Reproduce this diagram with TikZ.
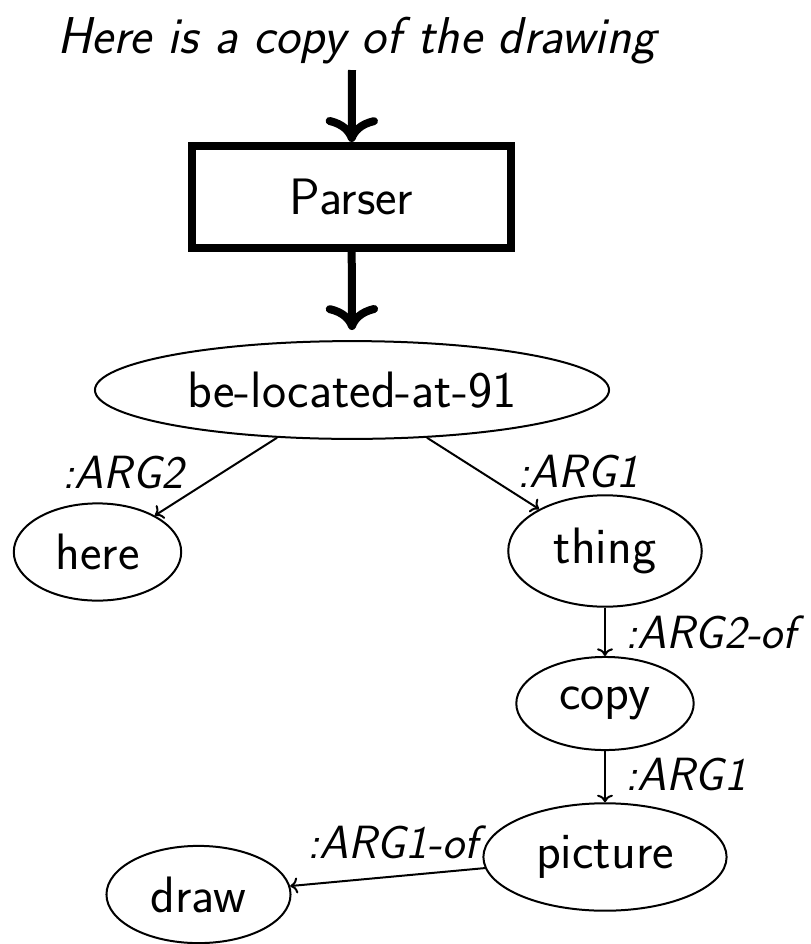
\documentclass[tikz,border=0pt]{standalone}
\usepackage{fontspec}
\usetikzlibrary{shapes.geometric,arrows.meta}
\begin{document}
\begin{tikzpicture}[x=0.5pt,y=-0.5pt,
  every node/.style={font=\sffamily\fontsize{25.6}{30}\selectfont},
  amr/.style={draw, ellipse, line width=1pt, inner xsep=8.6pt, inner ysep=8.2pt},
  lbl/.style={font=\sffamily\itshape\fontsize{23.3}{28}\selectfont, inner sep=0pt, anchor=base},
  rel/.style={->, line width=1pt},
  bigarrow/.style={-{To[scale=1.2]}, line width=4pt},
  parserbox/.style={draw, rectangle, line width=4pt, minimum width=159.5pt, minimum height=51pt, inner sep=0pt}]
\useasboundingbox (0,0) rectangle (810,944);
% title
\node[lbl, font=\sffamily\itshape\fontsize{25.9}{31}\selectfont] (title) at (356.5,53) {Here is a copy of the drawing};
% parser
\node[parserbox] (parser) at (351.5,197) {Parser};
\coordinate (in) at (352,70);
\coordinate (out) at (352,330);
\draw[bigarrow] (in) -- (parser);
\draw[bigarrow] (parser) -- (out);
% graph
\node[amr] (bl) at (352,390) {be-located-at-91};
\node[amr] (here) at (97.5,552) {here};
\node[amr] (thing) at (605,551) {thing};
\node[amr] (copy) at (605,703.5) {copy};
\node[amr] (picture) at (605,857) {picture};
\node[amr] (draw) at (198.5,894.5) {draw};
\draw[rel] (bl) -- (here);
\draw[rel] (bl) -- (thing);
\draw[rel] (thing) -- (copy);
\draw[rel] (copy) -- (picture);
\draw[rel] (picture) -- (draw);
% labels
\node[lbl] (l1) at (123,488) {:ARG2};
\node[lbl] (l2) at (578,487) {:ARG1};
\node[lbl, anchor=base west] (l3) at (625,648) {:ARG2-of};
\node[lbl, anchor=base west] (l4) at (625,790) {:ARG1};
\node[lbl] (l5) at (392.5,858) {:ARG1-of};
\end{tikzpicture}
\end{document}
